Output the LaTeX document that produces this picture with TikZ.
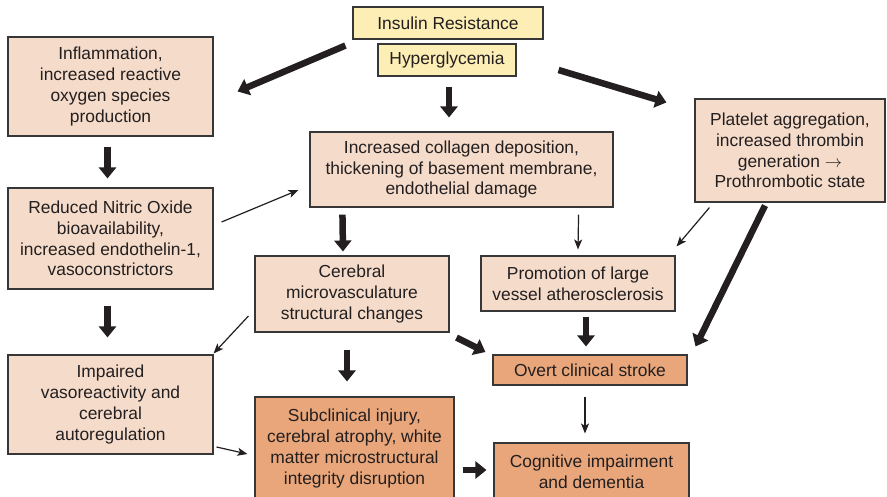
\documentclass[tikz,border=0pt]{standalone}
\usepackage{fontspec}
\setmainfont{Liberation Sans}
\usetikzlibrary{arrows.meta}
\definecolor{peach}{RGB}{245,219,201}
\definecolor{salmon}{RGB}{233,166,122}
\definecolor{cream}{RGB}{252,238,180}
\definecolor{ink}{RGB}{35,31,32}
\definecolor{edge}{RGB}{55,55,55}
\begin{document}
\begin{tikzpicture}[x=1pt,y=-1pt,
  box/.style={draw=edge,line width=1.1pt,fill=peach,text=ink,align=center,
    inner sep=0pt,font=\fontsize{17.4}{20.7}\selectfont},
  darkbox/.style={box,fill=salmon},
  topbox/.style={box,fill=cream},
  big/.style={draw=ink,line width=6.5pt,-{Triangle[length=11pt,width=17pt]}},
  thin/.style={draw=ink,line width=1.2pt,-{Stealth[length=10pt,width=8pt,inset=2.5pt]}}]
\clip (0,0) rectangle (887,496);
\fill[white] (0,0) rectangle (887,496);

% source boxes
\node[topbox,minimum width=190pt,minimum height=32pt] (ins) at (448,23) {Insulin Resistance};
\node[topbox,minimum width=138pt,minimum height=32pt] (hyp) at (447,60) {Hyperglycemia};

% left column
\node[box,minimum width=205pt,minimum height=99pt] (infl) at (110.5,86.5)
  {Inflammation,\\increased reactive\\oxygen species\\production};
\node[box,minimum width=205pt,minimum height=101pt] (no) at (110.5,238.5)
  {Reduced Nitric Oxide\\bioavailability,\\increased endothelin-1,\\vasoconstrictors};
\node[box,minimum width=205pt,minimum height=99pt] (imp) at (110.5,404.5)
  {Impaired\\vasoreactivity and\\cerebral\\autoregulation};

% middle column
\node[box,minimum width=303pt,minimum height=75pt] (coll) at (461.5,169.5)
  {Increased collagen deposition,\\thickening of basement membrane,\\endothelial damage};
\node[box,minimum width=194pt,minimum height=76pt] (cmv) at (352,294)
  {Cerebral\\microvasculature\\structural changes};
\node[darkbox,minimum width=199pt,minimum height=103pt] (sub) at (354.5,448.5)
  {Subclinical injury,\\cerebral atrophy, white\\matter microstructural\\integrity disruption};

% right side
\node[box,minimum width=190pt,minimum height=103pt] (plat) at (790,150.5)
  {Platelet aggregation,\\increased thrombin\\generation $\rightarrow$\\Prothrombotic state};
\node[box,minimum width=194pt,minimum height=55pt] (prom) at (578,283.5)
  {Promotion of large\\vessel atherosclerosis};
\node[darkbox,minimum width=194pt,minimum height=30pt] (stroke) at (590,370)
  {Overt clinical stroke};
\node[darkbox,minimum width=195pt,minimum height=58pt] (cog) at (591.5,472)
  {Cognitive impairment\\and dementia};

% connectors
\draw[big] ([shift={(-7,6)}]ins.south west) -- ([shift={(24,55)}]infl.north east);
\draw[big] ([shift={(2,10)}]hyp.south) -- ([shift={(2,-14)}]hyp.south |- coll.north);
\draw[big] ([shift={(42,10)}]hyp.east) -- ([shift={(-28,4)}]plat.north west);

\draw[big] ([shift={(-3,10)}]infl.south) -- ([shift={(-3,-9)}]no.north);
\draw[big] ([shift={(-3,16)}]no.south) -- ([shift={(-3,-17)}]imp.north);
\draw[thin] ([shift={(8,-16.5)}]no.east) -- ([shift={(-11,20.5)}]coll.west);

\draw[big] ([shift={(33,7)}]coll.south west) -- ([shift={(-9,-4)}]cmv.north);
\draw[thin] ([shift={(-35,7)}]coll.south east) -- ([shift={(0,-6)}]prom.north);

\draw[thin] ([shift={(15,5)}]plat.south west) -- ([shift={(1,-9)}]prom.north east);
\draw[big] ([shift={(-25,3)}]plat.south) -- ([shift={(8,-8)}]stroke.north east);

\draw[big] ([shift={(8,5)}]prom.south) -- ([shift={(-4,-8)}]stroke.north);
\draw[big] ([shift={(7,5)}]cmv.south east) -- ([shift={(-7,-18)}]stroke.west);
\draw[thin] ([shift={(-6,22)}]cmv.west) -- ([shift={(0,-1)}]imp.north east);
\draw[big] ([shift={(-5,17)}]cmv.south) -- ([shift={(-7.5,-15)}]sub.north);

\draw[thin] ([shift={(3,42.5)}]imp.east) -- ([shift={(-7,5.5)}]sub.west);
\draw[thin] ([shift={(-5,11)}]stroke.south) -- ([shift={(-6.5,-9)}]cog.north);
\draw[big] ([shift={(8,21.5)}]sub.east) -- ([shift={(-7,-2)}]cog.west);
\end{tikzpicture}
\end{document}
